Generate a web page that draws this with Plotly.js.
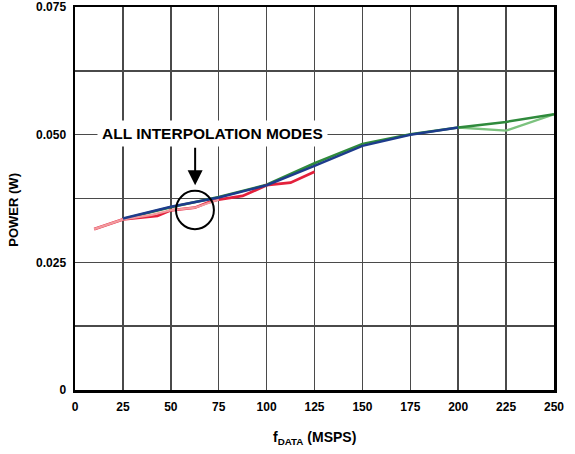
<!DOCTYPE html>
<html><head><meta charset="utf-8">
<script src="https://cdn.plot.ly/plotly-3.0.1.min.js"></script>
<style>html,body{margin:0;padding:0;background:#fff}#c{width:575px;height:454px}</style>
</head><body><div id="c"></div>
<script>
// Data
const pinkX = [10, 25, 40, 50, 62.5, 75];
const pinkY = [0.0315, 0.0334, 0.0343, 0.0352, 0.0357, 0.0373];
const redX = [10, 25, 43, 50, 62.5, 70, 75, 87.5, 100, 112.5, 125];
const redY = [0.0315, 0.0334, 0.0341, 0.0352, 0.0357, 0.0368, 0.0373, 0.0380, 0.0401, 0.0406, 0.04275];
const greenX = [25, 50, 75, 100, 125, 150, 175, 200, 225, 250];
const greenY = [0.0335, 0.0358, 0.0378, 0.0402, 0.0444, 0.0482, 0.0501, 0.0514, 0.0525, 0.0540];
const blueX = [25, 50, 75, 100, 125, 150, 175, 200];
const blueY = [0.0336, 0.0359, 0.0377, 0.0401, 0.0439, 0.0478, 0.0500, 0.0514];
const ltGreenX = [200, 225, 250];
const ltGreenY = [0.0514, 0.0508, 0.0540];
const xTicks = [0, 25, 50, 75, 100, 125, 150, 175, 200, 225, 250];
const yTickVals = [0, 0.0125, 0.025, 0.0375, 0.05, 0.0625, 0.075];
const yTickText = ['0', '', '0.025', '', '0.050', '', '0.075'];

const F = 'Arial, "Liberation Sans", sans-serif';
const ln = (x, y, c, w) => ({x, y, type: 'scatter', mode: 'lines', line: {color: c, width: w || 2.5}, hoverinfo: 'skip'});

const traces = [
  ln(ltGreenX, ltGreenY, '#7cc27e', 2.3),
  ln(greenX, greenY, '#2f8a3c', 2.5),
  ln(redX, redY, '#e3213c', 2.8),
  ln(pinkX, pinkY, '#f29a9e', 2.2),
  ln(blueX, blueY, '#1d3c8c', 2.5)
];

const layout = {
  width: 575, height: 454,
  margin: {l: 75, r: 21, t: 7, b: 64},
  paper_bgcolor: '#fff', plot_bgcolor: '#fff',
  showlegend: false,
  font: {family: F, size: 12, color: '#000'},
  xaxis: {
    range: [0, 250], tickvals: xTicks, ticktext: xTicks.map(String),
    showgrid: true, gridcolor: '#4a4a4a', gridwidth: 1.5,
    zeroline: false, showline: true, linecolor: '#000', linewidth: 2.5, mirror: true,
    ticks: '', ticklabelstandoff: 4,
    tickfont: {family: F, size: 12, weight: 'bold', color: '#000'}
  },
  yaxis: {
    range: [0, 0.075], tickvals: yTickVals, ticktext: yTickText,
    showgrid: true, gridcolor: '#4a4a4a', gridwidth: 1.5,
    zeroline: false, showline: true, linecolor: '#000', linewidth: 2.5, mirror: true,
    ticks: '', ticklabelstandoff: 4,
    tickfont: {family: F, size: 12, weight: 'bold', color: '#000'}
  },
  annotations: [
    {x: 72, y: 0.0503, xref: 'x', yref: 'y', text: '<b>ALL INTERPOLATION MODES</b>', showarrow: false,
     bgcolor: '#fff', borderpad: 4, font: {family: F, size: 15.5, color: '#000'}},
    {x: 62.7, y: 0.0401, xref: 'x', yref: 'y', ax: 0, ay: -39, axref: 'pixel', ayref: 'pixel', text: '',
     showarrow: true, arrowhead: 2, arrowsize: 1.5, arrowwidth: 2, arrowcolor: '#000'},
    {x: 0.5, y: -0.125, xref: 'paper', yref: 'paper', xanchor: 'center', yanchor: 'middle', showarrow: false,
     text: '<b>f<sub>DATA</sub> (MSPS)</b>', font: {family: F, size: 14, color: '#000'}},
    {x: -0.128, y: 0.47, xref: 'paper', yref: 'paper', xanchor: 'center', yanchor: 'middle', showarrow: false,
     textangle: -90, text: '<b>POWER (W)</b>', font: {family: F, size: 13, color: '#000'}}
  ],
  shapes: [
    {type: 'circle', xref: 'x', yref: 'y', x0: 52.7, x1: 72.5, y0: 0.0315, y1: 0.0390,
     line: {color: '#000', width: 2}}
  ]
};
Plotly.newPlot('c', traces, layout, {displayModeBar: false, staticPlot: true});
</script></body></html>
